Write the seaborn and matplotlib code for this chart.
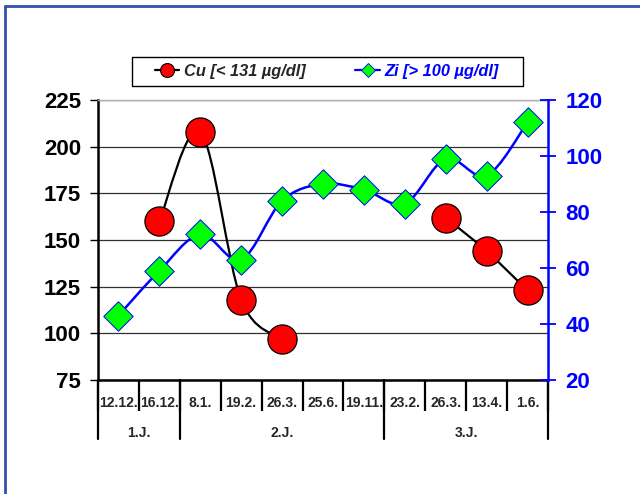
import numpy as np
import pandas as pd
import matplotlib
matplotlib.use("Agg")
import matplotlib.pyplot as plt
import seaborn as sns
from matplotlib.path import Path
from matplotlib.patches import PathPatch, Rectangle
from matplotlib.lines import Line2D

# ---- data ----
dates = ["12.12.", "16.12.", "8.1.", "19.2.", "26.3.", "25.6.", "19.11.",
         "23.2.", "26.3.", "13.4.", "1.6."]
groups = ["1.J.", "2.J.", "3.J."]
group_sizes = [2, 5, 4]
cu = [np.nan, 160, 208, 118, 97, np.nan, np.nan, np.nan, 162, 144, 123]
zi = [43, 59, 72, 63, 84, 90, 88, 83, 99, 93, 112]
cu_label = "Cu [< 131 µg/dl]"
zi_label = "Zi [> 100 µg/dl]"

sns.set_style("white")
plt.rcParams["font.family"] = ["Liberation Sans", "DejaVu Sans"]
plt.rcParams["font.weight"] = "bold"

df = pd.DataFrame({"date": dates, "x": np.arange(len(dates)), "cu": cu, "zi": zi})


def smooth_path(xs, ys):
    # smoothed line like the spreadsheet one: cubic bezier through each point
    verts = [(xs[0], ys[0])]
    codes = [Path.MOVETO]
    n = len(xs)
    for i in range(n - 1):
        xp, yp = (xs[i - 1], ys[i - 1]) if i > 0 else (xs[i], ys[i])
        xn, yn = (xs[i + 2], ys[i + 2]) if i + 2 < n else (xs[i + 1], ys[i + 1])
        c1 = (xs[i] + (xs[i + 1] - xp) / 6, ys[i] + (ys[i + 1] - yp) / 6)
        c2 = (xs[i + 1] - (xn - xs[i]) / 6, ys[i + 1] - (yn - ys[i]) / 6)
        verts += [c1, c2, (xs[i + 1], ys[i + 1])]
        codes += [Path.CURVE4] * 3
    return Path(verts, codes)


def runs(frame, col):
    # consecutive non-missing stretches
    ok = frame[col].notna().to_numpy()
    out, cur = [], []
    for i, good in enumerate(ok):
        if good:
            cur.append(i)
        elif cur:
            out.append(cur)
            cur = []
    if cur:
        out.append(cur)
    return out


fig = plt.figure(figsize=(6.4, 4.94), dpi=100)
ax = fig.add_axes([98 / 640, 1 - 380 / 494, 450 / 640, 280 / 494])
ax2 = ax.twinx()

# Cu on the left axis
for idx in runs(df, "cu"):
    sub = df.iloc[idx]
    ax.add_patch(PathPatch(smooth_path(sub["x"].tolist(), sub["cu"].tolist()),
                           facecolor="none", edgecolor="black", lw=1.6, zorder=2))
sns.scatterplot(data=df, x="x", y="cu", ax=ax, marker="o", s=440, color="red",
                edgecolor="black", linewidth=0.9, zorder=3, legend=False)

# Zi on the right axis
ax2.add_patch(PathPatch(smooth_path(df["x"].tolist(), df["zi"].tolist()),
                        facecolor="none", edgecolor="blue", lw=1.8, zorder=2))
sns.scatterplot(data=df, x="x", y="zi", ax=ax2, marker="D", s=225, color="#00ff00",
                edgecolor="blue", linewidth=0.7, zorder=3, legend=False)

# axes ranges / ticks
ax.set_xlim(-0.5, len(dates) - 0.5)
ax.set_ylim(75, 225)
ax.set_yticks(np.arange(75, 226, 25))
ax2.set_ylim(20, 120)
ax2.set_yticks(np.arange(20, 121, 20))
ax.set_xlabel("")
ax.set_ylabel("")
ax2.set_ylabel("")

ax.yaxis.grid(True, color="#303030", lw=0.9)
ax.set_axisbelow(True)

for s in ["left", "bottom"]:
    ax.spines[s].set_color("black")
    ax.spines[s].set_linewidth(1.8)
ax.spines["top"].set_color("#b0b0b0")
ax.spines["top"].set_linewidth(1.0)
ax.spines["right"].set_visible(False)
for s in ["left", "bottom", "top"]:
    ax2.spines[s].set_visible(False)
ax2.spines["right"].set_color("blue")
ax2.spines["right"].set_linewidth(1.8)

ax.tick_params(axis="y", which="major", direction="out", length=5.8, width=1.0,
               pad=6.5, labelsize=16, colors="black", left=True)
ax2.tick_params(axis="y", direction="inout", length=11, width=1.3, pad=7.0,
                labelsize=16, colors="blue", right=True)
for t in ax2.get_yticklabels():
    t.set_fontweight("bold")

# category axis: tick marks between categories, labels at centres
bounds = np.arange(-0.5, len(dates), 1.0)
ax.set_xticks(bounds)
ax.set_xticklabels([""] * len(bounds))
ax.set_xticks(df["x"], minor=True)
ax.set_xticklabels(dates, minor=True)
ax.tick_params(axis="x", which="major", direction="out", length=22.5, width=1.6,
               color="black", bottom=True)
ax.tick_params(axis="x", which="minor", length=0, pad=11.5, labelsize=10)

# second level: year groups
edges = np.concatenate([[0], np.cumsum(group_sizes)]) - 0.5
trans = ax.get_xaxis_transform()
for e in edges:
    ax.add_line(Line2D([e, e], [0, -0.211], transform=trans, color="black",
                       lw=1.6, clip_on=False))
for g, a, b in zip(groups, edges[:-1], edges[1:]):
    ax.text((a + b) / 2, -0.188, g, transform=trans, ha="center", va="center",
            fontsize=10, fontweight="bold")

# legend with its own frame
handles = [
    Line2D([], [], color="black", lw=1.6, marker="o", markersize=10,
           markerfacecolor="red", markeredgecolor="black", markeredgewidth=0.8),
    Line2D([], [], color="blue", lw=1.6, marker="D", markersize=7,
           markerfacecolor="#00ff00", markeredgecolor="blue", markeredgewidth=0.6),
]
leg = fig.legend(handles, [cu_label, zi_label], loc="center", ncol=2,
                 bbox_to_anchor=(327 / 640, 1 - 71.5 / 494), frameon=False,
                 prop={"weight": "bold", "style": "italic", "size": 11.8},
                 handlelength=1.5, handletextpad=0.3, columnspacing=3.0)
leg.get_texts()[1].set_color("blue")
fig.add_artist(Rectangle((131.7 / 640, 1 - 85.7 / 494), 391 / 640, 28.4 / 494,
                         transform=fig.transFigure, facecolor="none",
                         edgecolor="black", lw=1.0))

# outer chart border (left and top edges visible)
border = "#3050b0"
fig.add_artist(Line2D([5 / 640, 5 / 640], [0, 1 - 6 / 494], transform=fig.transFigure,
                      color=border, lw=2.0))
fig.add_artist(Line2D([5 / 640, 1], [1 - 6 / 494, 1 - 6 / 494], transform=fig.transFigure,
                      color=border, lw=2.0))

fig.savefig("out.png", dpi=100)
